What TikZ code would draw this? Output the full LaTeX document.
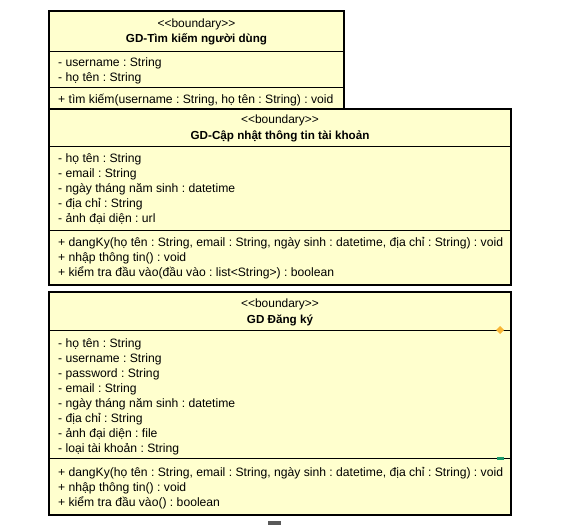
\documentclass[tikz,border=0pt]{standalone}
\usepackage{fontspec}
\setmainfont{Liberation Sans}
\definecolor{classfill}{RGB}{255,255,206}
\definecolor{markorange}{RGB}{248,182,52}
\definecolor{markgreen}{RGB}{26,154,106}
\frenchspacing
\begin{document}
\begin{tikzpicture}[x=1bp,y=-1bp,
  classbox/.style={draw=black,line width=2bp,fill=classfill,inner sep=0pt,outer sep=0pt,anchor=north west},
  stereo/.style={font=\fontsize{12}{14}\selectfont,inner sep=0pt},
  classname/.style={font=\fontsize{11.7}{14}\selectfont\bfseries,inner sep=0pt},
  members/.style={font=\fontsize{12.2}{15}\selectfont,inner sep=0pt,align=left,anchor=north west},
  sep/.style={line width=1bp}]
  \useasboundingbox (0,0) rectangle (586,525);
%%
  % Node: GD_DangKy
\begin{scope}
  \node [classbox,minimum width=462bp,minimum height=223bp] (GD_DangKy) at (49,292) {};
  \draw [sep] (GD_DangKy.west |- 0,330) -- (GD_DangKy.east |- 0,330);
  \draw [sep] (GD_DangKy.west |- 0,458) -- (GD_DangKy.east |- 0,458);
  \node [stereo] (GD_DangKy_st) at (280,304) {<{}<boundary>{}>};
  \node [classname] (GD_DangKy_name) at (280,320) {GD Đăng ký};
  \node [members] (GD_DangKy_attr) at (58,338.5) {- họ tên : String\\- username : String\\- password : String\\- email : String\\- ngày tháng năm sinh : datetime\\- địa chỉ : String\\- ảnh đại diện : file\\- loại tài khoản : String};
  \node [members] (GD_DangKy_op) at (58,467.5) {+ dangKy(họ tên : String, email : String, ngày sinh : datetime, địa chỉ : String) : void\\+ nhập thông tin() : void\\+ kiểm tra đầu vào() : boolean};
  \fill [markorange] (500,326) -- (504,330) -- (500,334) -- (496,330) -- cycle;
  \fill [markgreen] (497,457) rectangle (504,459.5);
\end{scope}
  % Node: GD_CapNhat
\begin{scope}
  \node [classbox,minimum width=462bp,minimum height=176bp] (GD_CapNhat) at (49,109) {};
  \draw [sep] (GD_CapNhat.west |- 0,147) -- (GD_CapNhat.east |- 0,147);
  \draw [sep] (GD_CapNhat.west |- 0,230) -- (GD_CapNhat.east |- 0,230);
  \node [stereo] (GD_CapNhat_st) at (280,120) {<{}<boundary>{}>};
  \node [classname] (GD_CapNhat_name) at (280,136) {GD-Cập nhật thông tin tài khoản};
  \node [members] (GD_CapNhat_attr) at (58,153.5) {- họ tên : String\\- email : String\\- ngày tháng năm sinh : datetime\\- địa chỉ : String\\- ảnh đại diện : url};
  \node [members] (GD_CapNhat_op) at (58,237.5) {+ dangKy(họ tên : String, email : String, ngày sinh : datetime, địa chỉ : String) : void\\+ nhập thông tin() : void\\+ kiểm tra đầu vào(đầu vào : list<String>) : boolean};
\end{scope}
  % Node: GD_TimKiem
\begin{scope}
  \node [classbox,minimum width=295bp,minimum height=98bp] (GD_TimKiem) at (49,11) {};
  \draw [sep] (GD_TimKiem.west |- 0,52) -- (GD_TimKiem.east |- 0,52);
  \draw [sep] (GD_TimKiem.west |- 0,88) -- (GD_TimKiem.east |- 0,88);
  \node [stereo] (GD_TimKiem_st) at (196.5,24) {<{}<boundary>{}>};
  \node [classname] (GD_TimKiem_name) at (196.5,39) {GD-Tìm kiếm người dùng};
  \node [members] (GD_TimKiem_attr) at (58,57.5) {- username : String\\- họ tên : String};
  \node [members] (GD_TimKiem_op) at (58,93.5) {+ tìm kiếm(username : String, họ tên : String) : void};
\end{scope}
  % Node: mark below
  \fill [black!65] (268,520.5) rectangle (281,525);
%
\end{tikzpicture}
\end{document}
